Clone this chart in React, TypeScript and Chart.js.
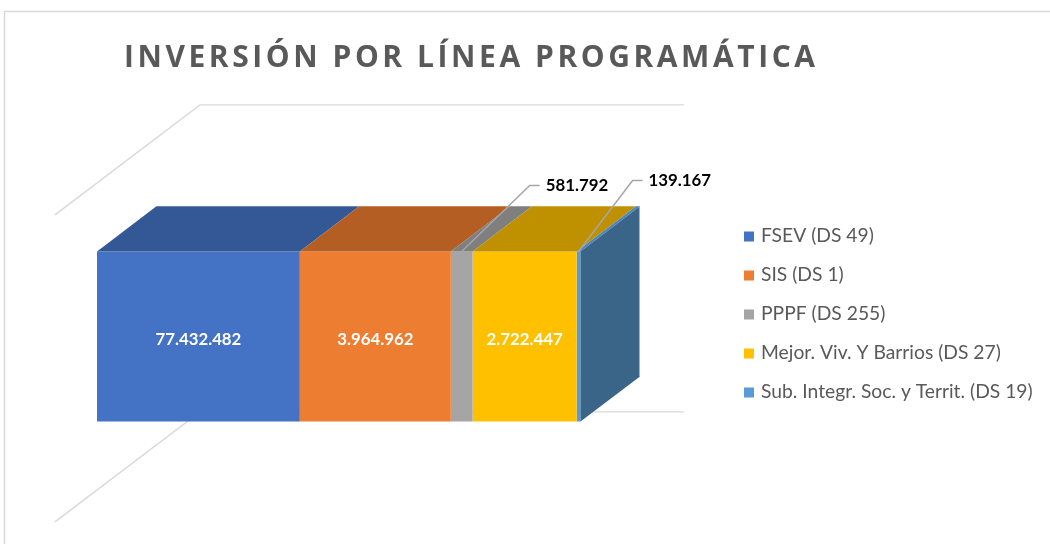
import React, { useEffect, useRef } from "react";
import { Chart, registerables } from "chart.js";
Chart.register(...registerables);

// ---- data ----
const chartTitle = "INVERSIÓN POR LÍNEA PROGRAMÁTICA";
const categories = ["Inversión"];
const seriesNames = [
  "FSEV (DS 49)",
  "SIS (DS 1)",
  "PPPF (DS 255)",
  "Mejor. Viv. Y Barrios (DS 27)",
  "Sub. Integr. Soc. y Territ. (DS 19)",
];
// amounts shown as data labels
const amounts = [77432482, 3964962, 581792, 2722447, 139167];
// share of the 100% bar each segment occupies
const barShares = [41.9, 31.2, 4.5, 21.5, 0.8];

// ---- styles ----
const frontColors = ["#4472c4", "#ed7d31", "#a5a5a5", "#ffc000", "#5b9bd5"];
const topColors = ["#345896", "#b45e24", "#7f7f7f", "#bf9000", "#4a86c0"];
const sideColor = "#3a6588";
const wallColor = "#d9d9d9";
const textGray = "#595959";
const FONT = "Lato, 'Open Sans', sans-serif";
const WALL_DEPTH = { dx: 145, dy: -110 };
const BAR_FRONT = 0.29;
const BAR_BACK = 0.7;
const outsideLeader: Record<number, [number, number, number]> = {
  2: [68, -66, 10],
  4: [54, -71, 10],
};

const fmt = (n: number) => String(n).replace(/\B(?=(\d{3})+(?!\d))/g, ".");

function fitSize(ctx: CanvasRenderingContext2D, text: string, weight: string, target: number) {
  ctx.font = `${weight} 100px ${FONT}`;
  return (100 * target) / ctx.measureText(text).width;
}

const threeD = {
  id: "threeD",
  beforeDraw(chart: any) {
    const ctx: CanvasRenderingContext2D = chart.ctx;
    ctx.save();
    ctx.fillStyle = "#fff";
    ctx.fillRect(0, 0, chart.width, chart.height);
    // frame
    ctx.strokeStyle = wallColor;
    ctx.lineWidth = 1.5;
    ctx.strokeRect(4.5, 11.5, 2000, 2000);
    // title, letter-spaced
    const tsize = 30;
    ctx.font = `700 ${tsize}px 'Open Sans', sans-serif`;
    ctx.fillStyle = textGray;
    ctx.textBaseline = "alphabetic";
    const chars = [...chartTitle];
    const widths = chars.map((c) => ctx.measureText(c).width);
    const total = widths.reduce((a, b) => a + b, 0);
    const targetW = 691;
    const sp = (targetW - total) / (chars.length - 1);
    let x = 124;
    chars.forEach((c, i) => {
      ctx.fillText(c, x, 67);
      x += widths[i] + sp;
    });
    // legend
    const lsize = fitSize(ctx, seriesNames[4], "400", 272);
    ctx.font = `400 ${lsize}px ${FONT}`;
    seriesNames.forEach((n, i) => {
      const cy = 236.5 + i * 39;
      ctx.fillStyle = frontColors[i];
      ctx.fillRect(744, cy - 5, 10, 10);
      ctx.fillStyle = textGray;
      ctx.fillText(n, 761, cy + 5.5);
    });
    ctx.restore();
  },
  beforeDatasetsDraw(chart: any) {
    const ctx: CanvasRenderingContext2D = chart.ctx;
    const a = chart.chartArea;
    const fx = -BAR_FRONT * WALL_DEPTH.dx, fy = -BAR_FRONT * WALL_DEPTH.dy;
    const bx = (1 - BAR_FRONT) * WALL_DEPTH.dx, by = (1 - BAR_FRONT) * WALL_DEPTH.dy;
    const front = { l: a.left + fx, t: a.top + fy, b: a.bottom + fy };
    const back = { l: a.left + bx, r: a.right + bx, t: a.top + by, b: a.bottom + by };
    ctx.save();
    ctx.strokeStyle = wallColor;
    ctx.lineWidth = 1.4;
    ctx.beginPath();
    ctx.moveTo(front.l, front.t);
    ctx.lineTo(back.l, back.t);
    ctx.lineTo(back.r, back.t);
    ctx.moveTo(front.l, front.b);
    ctx.lineTo(back.l, back.b);
    ctx.lineTo(back.r, back.b);
    ctx.stroke();
    ctx.restore();
  },
  afterDatasetsDraw(chart: any) {
    const ctx: CanvasRenderingContext2D = chart.ctx;
    const ddx = (BAR_BACK - BAR_FRONT) * WALL_DEPTH.dx;
    const ddy = (BAR_BACK - BAR_FRONT) * WALL_DEPTH.dy;
    ctx.save();
    const segs: any[] = [];
    chart.data.datasets.forEach((_: any, i: number) => {
      const el = chart.getDatasetMeta(i).data[0];
      const p = el.getProps(["x", "base", "y", "height"], true);
      const x0 = Math.min(p.x, p.base), x1 = Math.max(p.x, p.base);
      const top = p.y - p.height / 2, bot = p.y + p.height / 2;
      segs.push({ x0, x1, top, bot, cy: p.y });
      // top face
      ctx.fillStyle = topColors[i];
      ctx.beginPath();
      ctx.moveTo(x0, top);
      ctx.lineTo(x1, top);
      ctx.lineTo(x1 + ddx, top + ddy);
      ctx.lineTo(x0 + ddx, top + ddy);
      ctx.closePath();
      ctx.fill();
    });
    // side face of last segment
    const last = segs[segs.length - 1];
    ctx.fillStyle = sideColor;
    ctx.beginPath();
    ctx.moveTo(last.x1, last.top);
    ctx.lineTo(last.x1 + ddx, last.top + ddy);
    ctx.lineTo(last.x1 + ddx, last.bot + ddy);
    ctx.lineTo(last.x1, last.bot);
    ctx.closePath();
    ctx.fill();
    ctx.strokeStyle = "#9fb6cc";
    ctx.lineWidth = 1;
    ctx.beginPath();
    ctx.moveTo(last.x1 + ddx - 0.5, last.top + ddy);
    ctx.lineTo(last.x1 + ddx - 0.5, last.bot + ddy);
    ctx.stroke();

    // labels
    const lsize = fitSize(ctx, fmt(amounts[0]), "700", 86);
    ctx.font = `700 ${lsize}px ${FONT}`;
    segs.forEach((s, i) => {
      const txt = fmt(amounts[i]);
      const lead = outsideLeader[i];
      if (!lead) {
        ctx.fillStyle = "#ffffff";
        ctx.textAlign = "center";
        ctx.fillText(txt, (s.x0 + s.x1) / 2, s.cy + 8.5);
      } else {
        const ax = (s.x0 + s.x1) / 2, ay = s.top;
        const ex = ax + lead[0], ey = ay + lead[1];
        ctx.strokeStyle = "#a6a6a6";
        ctx.lineWidth = 1.5;
        ctx.beginPath();
        ctx.moveTo(ax, ay);
        ctx.lineTo(ex, ey);
        ctx.lineTo(ex + lead[2], ey);
        ctx.stroke();
        ctx.fillStyle = "#000000";
        ctx.textAlign = "left";
        ctx.fillText(txt, ex + lead[2] + 6, ey + 6);
      }
    });
    ctx.restore();
  },
};

export default function App() {
  const ref = useRef<HTMLCanvasElement>(null);
  useEffect(() => {
    const chart = new Chart(ref.current as HTMLCanvasElement, {
      type: "bar",
      data: {
        labels: categories,
        datasets: seriesNames.map((name, i) => ({
          label: name,
          data: [barShares[i]],
          backgroundColor: frontColors[i],
          borderWidth: 0,
          categoryPercentage: 1,
          barPercentage: 0.554,
        })),
      },
      options: {
        indexAxis: "y",
        responsive: false,
        devicePixelRatio: 1,
        animation: false,
        layout: { padding: { left: 97, right: 469, top: 183, bottom: 54 } },
        plugins: {
          legend: { display: false },
          title: { display: false },
          tooltip: { enabled: false },
        },
        scales: {
          x: { stacked: true, min: 0, max: 100, display: false },
          y: { stacked: true, display: false },
        },
      },
      plugins: [threeD],
    } as any);
    return () => chart.destroy();
  }, []);
  return (
    <div style={{ position: "fixed", left: 0, top: 0, width: 1050, height: 544, background: "#fff" }}>
      <canvas ref={ref} width={1050} height={544} style={{ display: "block", width: 1050, height: 544 }} />
    </div>
  );
}
